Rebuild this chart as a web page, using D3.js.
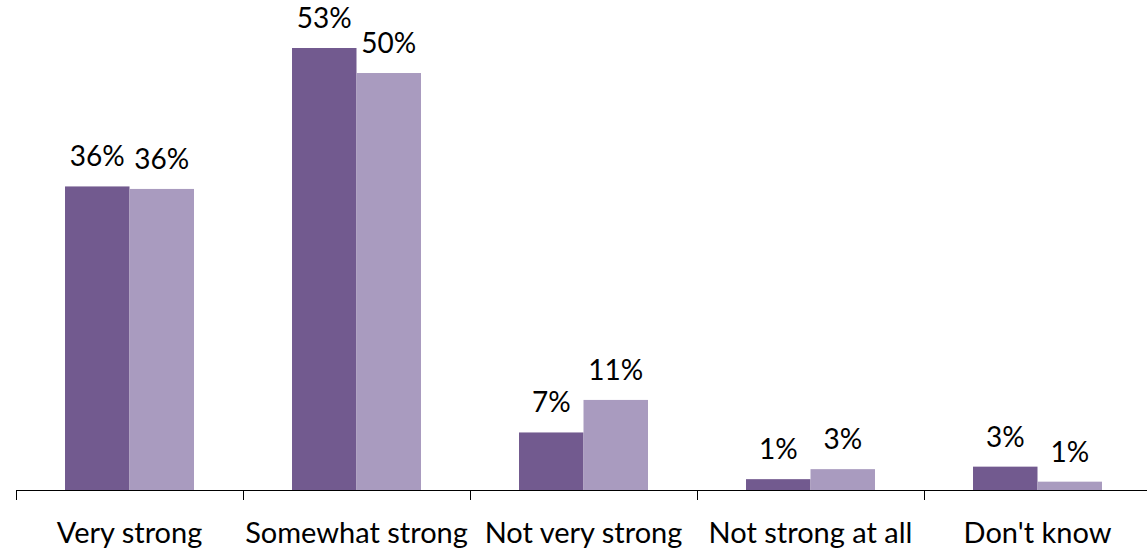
<!DOCTYPE html>
<html><head><meta charset="utf-8">
<script src="https://cdn.jsdelivr.net/npm/d3@7"></script>
<style>body{margin:0;background:#fff}svg{display:block}</style>
</head><body>
<script>
const categories = ["Very strong","Somewhat strong","Not very strong","Not strong at all","Don't know"];
const seriesNames = ["Series A","Series B"];
const valuesA = [36.4, 53, 6.9, 1.3, 2.8];
const valuesB = [36.1, 50, 10.8, 2.5, 1.0];
const labelsA = ["36%","53%","7%","1%","3%"];
const labelsB = ["36%","50%","11%","3%","1%"];
const colors = ["#725A8F","#A99BBF"];

const W = 1147, H = 553;
const FONT = "Lato, 'Open Sans', sans-serif";
const svg = d3.select("body").append("svg").attr("width", W).attr("height", H);
const x0 = d3.scaleBand().domain(categories).range([16, 1151]).paddingInner(0).paddingOuter(0);
const x1 = d3.scaleBand().domain(seriesNames).range([0, x0.bandwidth()]).paddingInner(0).paddingOuter(0.76);
const y = d3.scaleLinear().domain([0, 53]).range([490, 48]);

const rows = categories.map((c,i)=>({c, vals:[valuesA[i], valuesB[i]], labs:[labelsA[i], labelsB[i]]}));
const g = svg.append("g");
const grp = g.selectAll("g.cat").data(rows).join("g").attr("transform", d=>`translate(${x0(d.c)},0)`);
grp.selectAll("rect").data(d=>d.vals.map((v,j)=>({v,j}))).join("rect")
  .attr("x", d=>x1(seriesNames[d.j])).attr("width", x1.bandwidth())
  .attr("y", d=>y(d.v)).attr("height", d=>y(0)-y(d.v))
  .attr("fill", d=>colors[d.j]);
grp.selectAll("text").data(d=>d.vals.map((v,j)=>({v,j,l:d.labs[j]}))).join("text")
  .attr("x", d=>x1(seriesNames[d.j]) + x1.bandwidth()/2)
  .attr("y", d=>y(d.v) - 20)
  .attr("text-anchor","middle")
  .style("font-family",FONT).style("font-size","28px").attr("fill","#000")
  .text(d=>d.l);

const ax = svg.append("g").attr("transform","translate(0,490.5)")
  .call(d3.axisBottom(x0).tickSizeOuter(0).tickSize(0));
ax.select(".domain").attr("stroke","#000").attr("d","M16,0H1151");
ax.selectAll(".tick text").attr("y", 52).attr("dy", 0)
  .style("font-family",FONT).style("font-size","29px").attr("fill","#000");
// boundary ticks between categories
svg.append("g").selectAll("line").data(categories).join("line")
  .attr("x1", d=>Math.round(x0(d))+0.5).attr("x2", d=>Math.round(x0(d))+0.5)
  .attr("y1", 490).attr("y2", 500).attr("stroke","#000");
</script>
</body></html>
